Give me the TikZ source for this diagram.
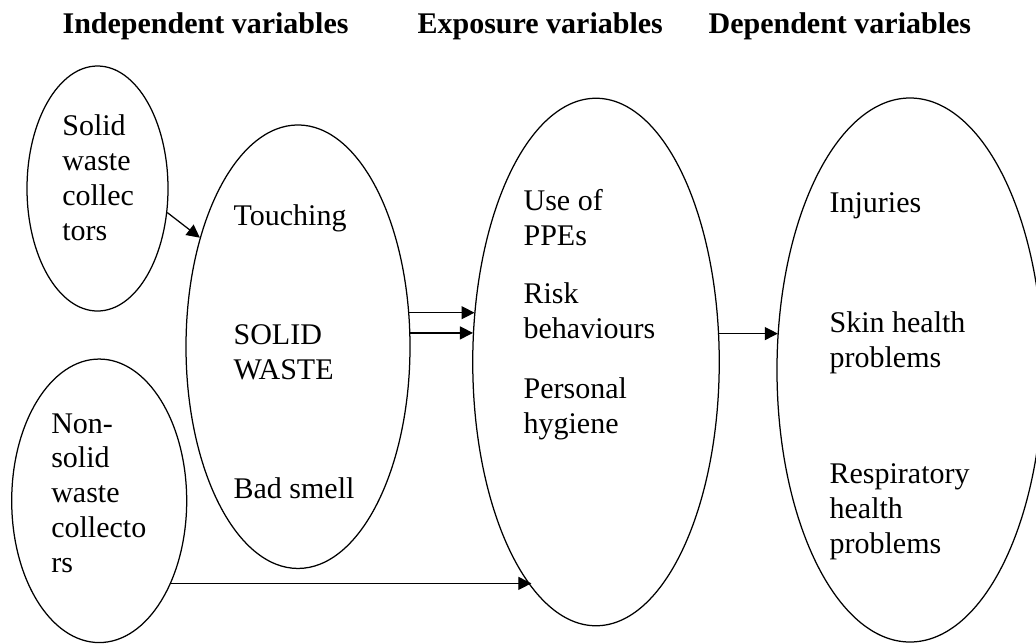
\documentclass[tikz,border=0pt]{standalone}
\usepackage{fontspec}
\setmainfont{Liberation Serif}
\usetikzlibrary{shapes.geometric,arrows.meta}

\begin{document}
\begin{tikzpicture}[x=0.4pt,y=-0.4pt,line width=0.5pt,
  oval/.style={draw,ellipse,inner sep=0pt},
  txt/.style={anchor=base west,align=left,inner sep=0pt,font=\fontsize{12}{13.9}\selectfont},
  hdr/.style={anchor=base west,inner sep=0pt,font=\fontsize{12}{13.9}\selectfont\bfseries},
  arr/.style={-{Triangle[length=5.2pt,width=5.2pt]}}]
\useasboundingbox (0,0) rectangle (1036,643);
% headings
\node[hdr] (hind) at (62,33) {Independent variables};
\node[hdr] (hexp) at (417,33) {Exposure variables};
\node[hdr] (hdep) at (708,33) {Dependent variables};
% ovals
\node[oval,minimum width=56.4pt,minimum height=98pt] (swc) at (97.5,188.5) {};
\node[oval,minimum width=70pt,minimum height=113.4pt] (nswc) at (99.2,500.8) {};
\node[oval,minimum width=89.6pt,minimum height=177.4pt] (sw) at (298,346.7) {};
\node[oval,minimum width=98.6pt,minimum height=211pt] (expo) at (596,362) {};
\node[oval,minimum width=106.4pt,minimum height=217.6pt] (dep) at (910,370) {};
% texts (base = last line)
\node[txt] (swctxt) at (61.7,240) {Solid\\waste\\collec\\tors};
\node[txt] (nswctxt) at (50.7,572) {Non-\\solid\\waste\\collecto\\rs};
\node[txt] (touch) at (233,225) {Touching};
\node[txt] (solid) at (233,379) {SOLID\\WASTE};
\node[txt] (smell) at (233,498) {Bad smell};
\node[txt] (ppe) at (523,245) {Use of\\PPEs};
\node[txt] (risk) at (523,338) {Risk\\behaviours};
\node[txt] (hyg) at (523,433) {Personal\\hygiene};
\node[txt] (inj) at (829,212) {Injuries};
\node[txt] (skin) at (829,367) {Skin health\\problems};
\node[txt] (resp) at (829,553) {Respiratory\\health\\problems};
% arrows
\draw[arr] (swc.-19) -- (sw.132);
\draw[arr] (sw.17.9) -- (sw.17.9 -| expo.157.1);
\draw[arr] (sw.7.5) -- (sw.7.5 -| expo.166.2);
\draw[arr] (expo.13.8) -- (expo.13.8 -| dep.163.9);
\draw[arr] (nswc.-49) -- (nswc.-49 -| expo.-106.9);
\end{tikzpicture}
\end{document}
